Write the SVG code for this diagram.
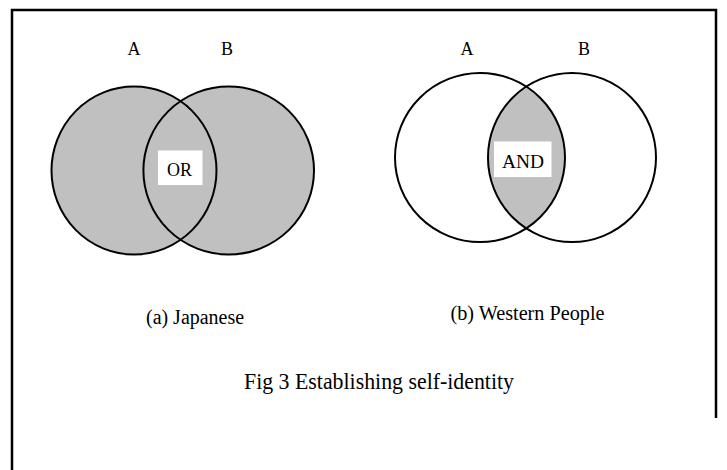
<svg xmlns="http://www.w3.org/2000/svg" width="727" height="470" viewBox="0 0 727 470">
  <style>
    .lbl { font-family: "Liberation Serif", "Times New Roman", serif; fill: #000; }
    .set { fill: none; stroke: #000; stroke-width: 2; }
    .shade { fill: #c0c0c0; }
    .tag { fill: #fff; }
  </style>
  <defs>
    <clipPath id="clipWA">
      <ellipse cx="480" cy="157.5" rx="85" ry="84.5"/>
    </clipPath>
    <filter id="soft" x="-10%" y="-10%" width="120%" height="120%">
      <feGaussianBlur stdDeviation="1.2"/>
    </filter>
  </defs>

  <rect width="727" height="470" fill="#fff"/>

  <!-- frame -->
  <path d="M12 470 V10 H716 V418" fill="none" stroke="#000" stroke-width="2.5"/>

  <!-- (a) Japanese : union -->
  <g id="venn-japanese">
    <ellipse class="shade" cx="134" cy="170.5" rx="82.5" ry="84"/>
    <ellipse class="shade" cx="228.7" cy="170.5" rx="85.3" ry="84"/>
    <ellipse class="set" cx="134" cy="170.5" rx="82.5" ry="84"/>
    <ellipse class="set" cx="228.7" cy="170.5" rx="85.3" ry="84"/>
    <rect class="tag" x="158" y="150.5" width="44.5" height="34.5"/>
    <text class="lbl" x="179.5" y="176" font-size="18" text-anchor="middle">OR</text>
    <text class="lbl" x="134" y="55" font-size="18" text-anchor="middle">A</text>
    <text class="lbl" x="227" y="55" font-size="18" text-anchor="middle">B</text>
    <text class="lbl" x="146" y="324" font-size="20" textLength="98" lengthAdjust="spacingAndGlyphs">(a) Japanese</text>
  </g>

  <!-- (b) Western People : intersection -->
  <g id="venn-western">
    <g clip-path="url(#clipWA)">
      <ellipse class="shade" cx="572" cy="157.5" rx="84" ry="84.5" filter="url(#soft)"/>
    </g>
    <ellipse class="set" cx="480" cy="157.5" rx="85" ry="84.5"/>
    <ellipse class="set" cx="572" cy="157.5" rx="84" ry="84.5"/>
    <rect class="tag" x="494" y="141.5" width="57.5" height="35.5"/>
    <text class="lbl" x="523" y="168" font-size="18" text-anchor="middle" textLength="42" lengthAdjust="spacingAndGlyphs">AND</text>
    <text class="lbl" x="467" y="55" font-size="18" text-anchor="middle">A</text>
    <text class="lbl" x="584" y="55" font-size="18" text-anchor="middle">B</text>
    <text class="lbl" x="450.5" y="320" font-size="20" textLength="154" lengthAdjust="spacingAndGlyphs">(b) Western People</text>
  </g>

  <text id="caption" class="lbl" x="244" y="389" font-size="23" textLength="270" lengthAdjust="spacingAndGlyphs">Fig 3 Establishing self-identity</text>
</svg>
